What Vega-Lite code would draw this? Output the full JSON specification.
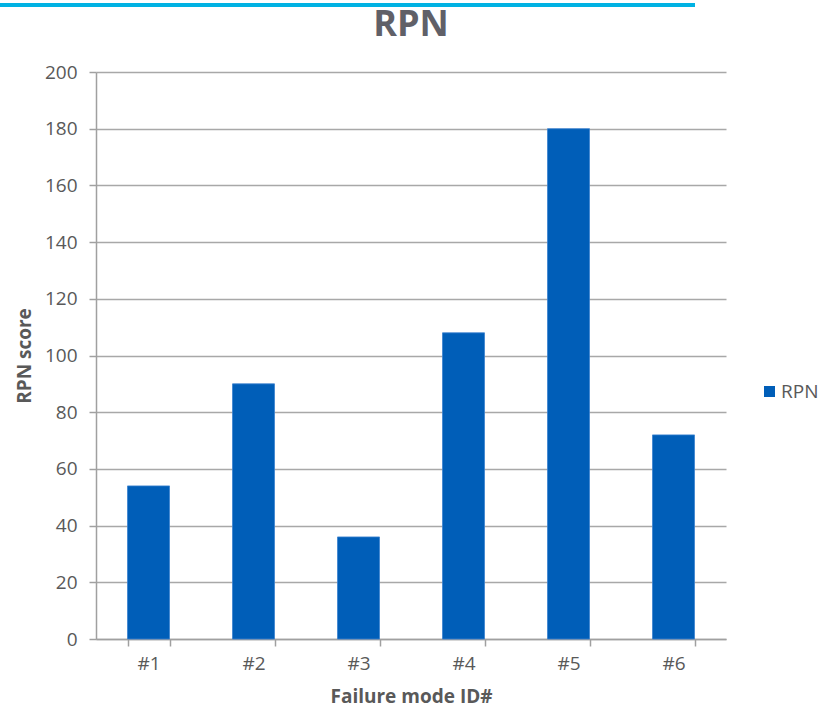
{
  "$schema": "https://vega.github.io/schema/vega-lite/v6.json",
  "width": 630,
  "height": 567,
  "autosize": "none",
  "padding": {"left": 96, "top": 72, "right": 92, "bottom": 70},
  "background": "white",
  "config": {
    "view": {"stroke": null},
    "font": "Open Sans"
  },
  "layer": [
    {
      "data": {
        "values": [
          {"id": "#1", "rpn": 54, "series": "RPN"},
          {"id": "#2", "rpn": 90, "series": "RPN"},
          {"id": "#3", "rpn": 36, "series": "RPN"},
          {"id": "#4", "rpn": 108, "series": "RPN"},
          {"id": "#5", "rpn": 180, "series": "RPN"},
          {"id": "#6", "rpn": 72, "series": "RPN"}
        ]
      },
      "mark": {"type": "bar", "stroke": "#3a82cf", "strokeWidth": 0.8},
      "encoding": {
        "x": {
          "field": "id",
          "type": "nominal",
          "sort": null,
          "scale": {"paddingInner": 0.6, "paddingOuter": 0.3},
          "axis": {
            "title": "Failure mode ID#",
            "titleFontSize": 19,
            "titleFontWeight": "bold",
            "titleColor": "#595959",
            "titlePadding": 14,
            "labelAngle": 0,
            "labelFontSize": 19,
            "labelColor": "#595959",
            "labelPadding": 8,
            "tickBand": "extent",
            "tickSize": 7,
            "tickColor": "#a0a0a0",
            "tickWidth": 1.5,
            "domainColor": "#a0a0a0",
            "domainWidth": 1.5,
            "grid": false
          }
        },
        "y": {
          "field": "rpn",
          "type": "quantitative",
          "scale": {"domain": [0, 200]},
          "axis": {
            "title": "RPN score",
            "titleFontSize": 19,
            "titleFontWeight": "bold",
            "titleColor": "#595959",
            "titlePadding": 10,
            "values": [0, 20, 40, 60, 80, 100, 120, 140, 160, 180, 200],
            "labelFontSize": 19,
            "labelColor": "#595959",
            "labelPadding": 12,
            "tickSize": 7,
            "tickColor": "#a0a0a0",
            "tickWidth": 1.5,
            "domainColor": "#a0a0a0",
            "domainWidth": 1.5,
            "grid": true,
            "gridColor": "#a8a8a8",
            "gridWidth": 1.5
          }
        },
        "color": {
          "field": "series",
          "type": "nominal",
          "scale": {"range": ["#005eb8"]},
          "legend": {
            "title": null,
            "orient": "none",
            "legendX": 664,
            "legendY": 310,
            "symbolType": "square",
            "symbolSize": 121,
            "symbolStrokeWidth": 0,
            "labelFontSize": 19,
            "labelColor": "#595959",
            "labelOffset": 2
          }
        }
      }
    },
    {
      "description": "Accent rule across the top of the page",
      "data": {"values": [{"part": "accent"}]},
      "mark": {"type": "rule", "color": "#00b2e3", "strokeWidth": 4, "clip": false},
      "encoding": {
        "x": {"value": -96},
        "x2": {"value": 599},
        "y": {"value": -67},
        "y2": {"value": -67}
      }
    },
    {
      "description": "Chart heading",
      "data": {"values": [{"heading": "RPN"}]},
      "mark": {
        "type": "text",
        "fontSize": 36,
        "fontWeight": "bold",
        "fill": "#606068",
        "align": "center",
        "baseline": "alphabetic",
        "clip": false
      },
      "encoding": {
        "text": {"field": "heading"},
        "x": {"value": 315},
        "y": {"value": -36}
      }
    }
  ]
}
